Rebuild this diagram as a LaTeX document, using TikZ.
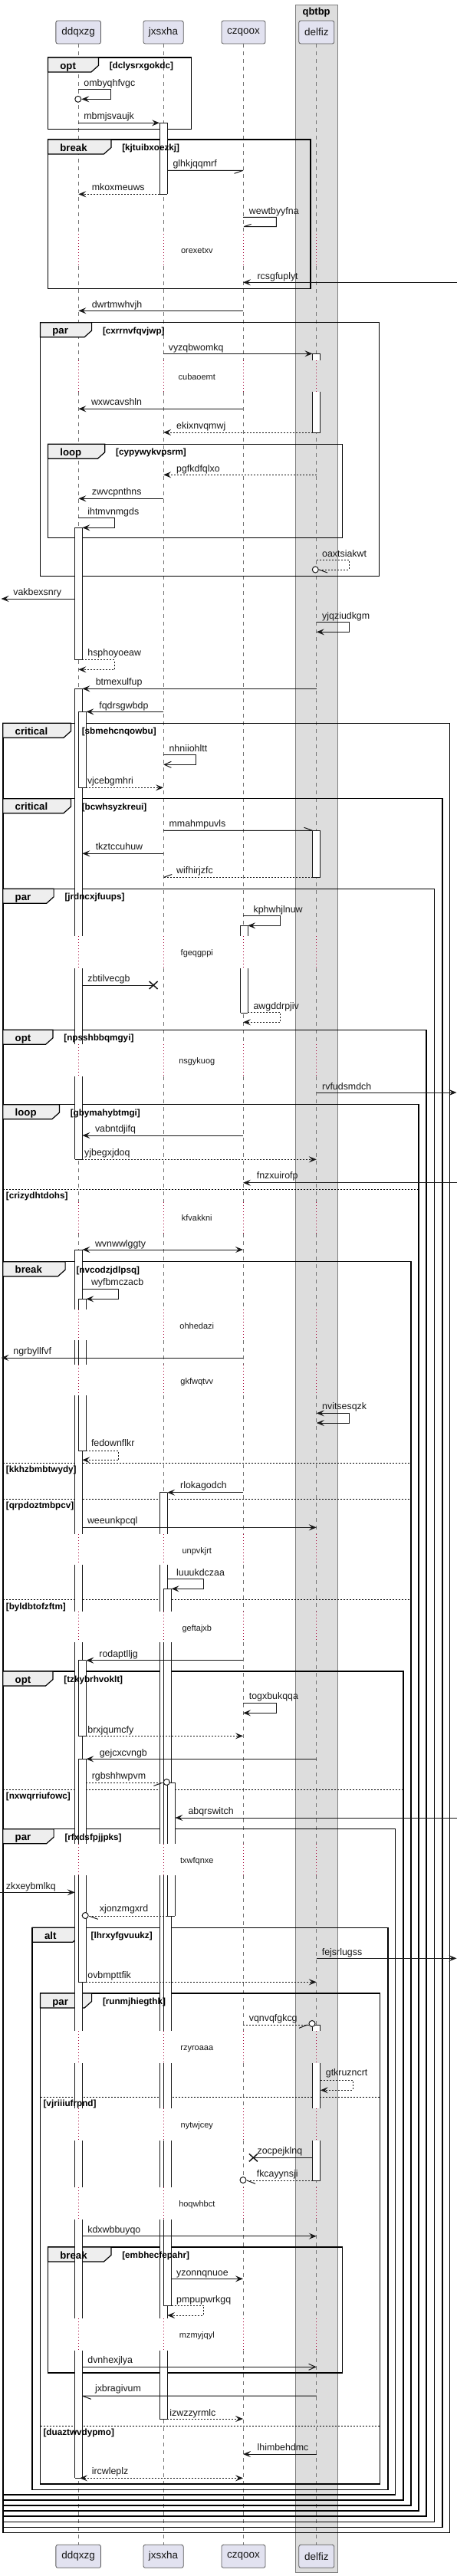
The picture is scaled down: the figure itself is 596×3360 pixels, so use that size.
\documentclass[tikz,border=0pt]{standalone}
\usepackage{fontspec}
\setmainfont{Liberation Sans}
\usetikzlibrary{arrows.meta}
\definecolor{partfill}{HTML}{E2E2F0}
\definecolor{boxfill}{HTML}{DDDDDD}
\definecolor{tabfill}{HTML}{EEEEEE}
\definecolor{delayred}{HTML}{A80036}
\definecolor{ink}{HTML}{181818}
\tikzset{
  msg/.style={draw=ink, line width=1pt},
  ret/.style={msg, dash pattern=on 2pt off 2pt},
  fa/.style={-{Stealth[length=10pt,width=8pt,inset=4pt]}},
  fb/.style={{Stealth[length=10pt,width=8pt,inset=4pt]}-{Stealth[length=10pt,width=8pt,inset=4pt]}},
  oa/.style={-{Straight Barb[length=9pt,width=8pt]}},
  lbl/.style={anchor=base west, inner sep=0pt, font=\fontsize{12.4}{14}\selectfont, text=ink},
  dly/.style={anchor=base, inner sep=0pt, font=\fontsize{11}{13}\selectfont, text=ink},
  kw/.style={anchor=base west, inner sep=0pt, font=\bfseries\fontsize{13.2}{15}\selectfont},
  cond/.style={anchor=base west, inner sep=0pt, font=\bfseries\fontsize{11.7}{14}\selectfont},
  part/.style={draw=black!65, line width=0.8pt, fill=partfill, rounded corners=2.5pt, minimum height=30pt, inner sep=0pt, font=\fontsize{13.5}{16}\selectfont, text=ink},
  life/.style={draw=black!55, line width=0.8pt, dash pattern=on 5pt off 5pt},
  dlife/.style={draw=delayred, line width=1pt, dash pattern=on 1pt off 3pt},
  frm/.style={draw=black, line width=1.5pt},
  sepl/.style={draw=black, line width=0.9pt, dash pattern=on 2pt off 2pt},
  actl/.style={draw=ink, line width=1pt},
}
\newcommand\actbox[5]{%
  \foreach \sa/\sb in {#5}{%
    \fill[white] (#1,\sa) rectangle (#2,\sb);
    \draw[actl] (#1,\sa) -- (#1,\sb) (#2,\sa) -- (#2,\sb);
  }
  \draw[actl] (#1,#3) -- (#2,#3) (#1,#4) -- (#2,#4);
}
\def\framelist{62.5/75/249.5/168.7/128.4/opt/[dclysrxgokdc],
62.5/182/405.1/376.7/144.9/break/[kjtuibxoezkj],
52.5/420.7/494.5/751.3/119.6/par/[cxrrnvfqvjwp],
62.5/579.3/446.5/701.7/136.8/loop/[cypywykvpsrm],
3.8/943.3/586.4/3303.5/92.4/critical/[sbmehcnqowbu],
3.8/1041.7/576.8/3296.4/92.4/critical/[bcwhsyzkreui],
3.8/1159.3/566.5/3289.3/70.1/par/[jrdncxjfuups],
3.8/1343.3/555.8/3282.2/69/opt/[npsshbbqmgyi],
3.8/1440.7/546.2/3275.1/77.4/loop/[gbymahybtmgi],
3.8/1645.7/535.9/3268/85.1/break/[nvcodzjdlpsq],
3.8/2180/525.9/3260.9/69/opt/[tzkybrhvoklt],
3.8/2385.7/515.5/3253.8/70.1/par/[rfxdsfpjjpks],
42.2/2514.3/506/3247.3/104.3/alt/[lhrxyfgvuukz],
52.5/2600/495.6/3240/119.6/par/[runmjhiegthk],
62.5/2931/446.5/3095/144.9/break/[embhecfepahr]}
\def\elselist{3.8/546.2/1551/[crizydhtdohs],
3.8/535.9/1908.3/[kkhzbmbtwydy],
3.8/535.9/1955.3/[qrpdoztmbpcv],
3.8/535.9/2086.7/[byldbtofzftm],
3.8/525.9/2334.3/[nxwqrriufowc],
52.5/495.6/2735.3/[vjriiiufrpnd],
52.5/495.6/3164.3/[duaztwvdypmo]}
\begin{document}
\begin{tikzpicture}[x=1pt,y=-1pt]
\useasboundingbox (0,0) rectangle (596,3360);
\fill[white] (0,0) rectangle (596,3360);
% box qbtbp
\filldraw[fill=boxfill, draw=black!50, line width=1pt] (385.6,6) rectangle (440,3355.3);
\node[anchor=base, inner sep=0pt, font=\bfseries\fontsize{13}{15}\selectfont] (bx) at (412.6,19.7) {qbtbp};
% lifelines
\foreach \lx in {102.3,213.1,317,412.8}{
  \foreach \sa/\sb in {57.3/305, 347/470, 511/1221, 1263/1362, 1404/1568, 1609/1708, 1748/1780, 1820/2001, 2041/2102, 2142/2405, 2446/2649, 2691/2750, 2792/2853, 2895/3024, 3066/3319.3}{\draw[life] (\lx,\sa) -- (\lx,\sb);}
  \foreach \sa/\sb in {305/347, 470/511, 1221/1263, 1362/1404, 1568/1609, 1708/1748, 1780/1820, 2001/2041, 2102/2142, 2405/2446, 2649/2691, 2750/2792, 2853/2895, 3024/3066}{\draw[dlife] (\lx,\sa) -- (\lx,\sb);}
}
% participants
\node[part, minimum width=58.7pt] (p1) at (102.2,42) {ddqxzg};
\node[part, minimum width=52.2pt] (p2) at (213.1,42) {jxsxha};
\node[part, minimum width=57.1pt] (p3) at (317.5,42) {czqoox};
\node[part, minimum width=46pt] (p4) at (412.8,42) {delfiz};
\node[part, minimum width=58.7pt] (q1) at (102.2,3334.3) {ddqxzg};
\node[part, minimum width=52.2pt] (q2) at (213.1,3334.3) {jxsxha};
\node[part, minimum width=57.1pt] (q3) at (317.5,3334.3) {czqoox};
\node[part, minimum width=46pt] (q4) at (412.8,3334.3) {delfiz};
% frames
\foreach \fx/\fy/\fxx/\fyy/\ft/\fk/\fc in \framelist{
  \draw[frm] (\fx,\fy) rectangle (\fxx,\fyy);
  \filldraw[fill=tabfill, draw=black, line width=1.2pt] (\fx,\fy) -- (\ft,\fy) -- (\ft,\fy+10.5) -- (\ft-9.5,\fy+19) -- (\fx,\fy+19) -- cycle;
}
\foreach \ex/\exx/\ey/\el in \elselist{\draw[sepl] (\ex,\ey) -- (\exx,\ey);}
% activations
\actbox{208.1}{218.1}{160.3}{253.3}{160.3/253.3}
\actbox{407.5}{417.8}{461.3}{564}{461.3/470, 511/564}
\actbox{97.7}{107.3}{688.3}{860.7}{688.3/860.7}
\actbox{97.7}{107.3}{898.3}{1512.3}{898.3/1221, 1263/1362, 1404/1512.3}
\actbox{102.3}{112.3}{928.3}{1027.7}{928.3/1027.7}
\actbox{407.5}{417.8}{1083.3}{1144.3}{1083.3/1144.3}
\actbox{313.5}{323.1}{1207.3}{1321}{1207.3/1221, 1263/1321}
\actbox{97.7}{107.3}{1630}{3232.3}{1630/1708, 1748/1780, 1820/2001, 2041/2102, 2142/2405, 2446/2649, 2691/2750, 2792/2853, 2895/3024, 3066/3232.3}
\actbox{102.3}{112.3}{1694.3}{1892}{1694.3/1708, 1748/1780, 1820/1892}
\actbox{208.1}{218.1}{1946.7}{3155}{1946.7/2001, 2041/2102, 2142/2405, 2446/2649, 2691/2750, 2792/2853, 2895/3024, 3066/3155}
\actbox{213.1}{223.5}{2072.3}{3007.3}{2072.3/2102, 2142/2405, 2446/2649, 2691/2750, 2792/2853, 2895/3007.3}
\actbox{102.3}{112.3}{2165.7}{2264.3}{2165.7/2264.3}
\actbox{102.3}{112.3}{2294.3}{2585.3}{2294.3/2405, 2446/2585.3}
\actbox{218.1}{228.4}{2325.3}{2499.3}{2325.3/2405, 2446/2499.3}
\actbox{407.5}{417.8}{2641}{2844}{2641/2649, 2691/2750, 2792/2844}
% frame texts
\foreach \fx/\fy/\fxx/\fyy/\ft/\fk/\fc [count=\i] in \framelist{
  \node[kw] (fk\i) at (\fx+15.7,\fy+15) {\fk};
  \node[cond] (fc\i) at (\ft+14.2,\fy+14.5) {\fc};
}
\foreach \ex/\exx/\ey/\el [count=\i] in \elselist{\node[cond] (el\i) at (\ex+3.9,\ey+12.6) {\el};}
% delays
\foreach \dc/\dt [count=\i] in {326/orexetxv, 491/cubaoemt, 1242.3/fgeqgppi, 1383.3/nsgykuog, 1588.3/kfvakkni, 1729.3/ohhedazi, 1801/gkfwqtvv, 2022.3/unpvkjrt, 2123.3/geftajxb, 2426/txwfqnxe, 2670/rzyroaaa, 2771/nytwjcey, 2874/hoqwhbct, 3045.7/mzmyjqyl}{\node[dly] (dl\i) at (256.8,\dc+4) {\dt};}
% messages
\draw[msg,fa] (102.3,116.3) -- (144.5,116.3) -- (144.5,129.3) -- (106.3,129.3);
\draw[msg,fill=white] (101.8,129.3) circle[radius=4pt];
\node[lbl] (m1) at (109.2,112.8) {ombyqhfvgc};
\draw[msg,fa] (102.3,160.3) -- (208.1,160.3);
\node[lbl] (m2) at (109.2,155.2) {mbmjsvaujk};
\draw[msg] (218.1,222.3) -- (317,222.3) (317,222.3) -- (305.5,226.3);
\node[lbl] (m3) at (225.4,217.8) {glhkjqqmrf};
\draw[ret,fa] (208.1,253.3) -- (102.3,253.3);
\node[lbl] (m4) at (119.6,248.2) {mkoxmeuws};
\draw[msg] (317,283.3) -- (360.3,283.3) -- (360.3,295.7) -- (318,295.7) (318,295.7) -- (327.6,292.4);
\node[lbl] (m5) at (324.7,279.5) {wewtbyyfna};
\draw[msg,fa] (596,368.3) -- (317,368.3);
\node[lbl] (m6) at (335.4,364.5) {rcsgfuplyt};
\draw[msg,fa] (317,405.3) -- (102.3,405.3);
\node[lbl] (m7) at (119.6,401.2) {dwrtmwhvjh};
\draw[msg,fa] (213.1,461.3) -- (407.5,461.3);
\node[lbl] (m8) at (219.6,457.2) {vyzqbwomkq};
\draw[msg,fa] (317,533.3) -- (102.3,533.3);
\node[lbl] (m9) at (118.8,528.8) {wxwcavshln};
\draw[ret,fa] (407.5,564) -- (213.1,564);
\node[lbl] (m10) at (230,559.5) {ekixnvqmwj};
\draw[ret,fa] (412.8,619.3) -- (213.1,619.3);
\node[lbl] (m11) at (230,615.2) {pgfkdfqlxo};
\draw[msg,fa] (213.1,650.3) -- (102.3,650.3);
\node[lbl] (m12) at (119.6,645.2) {zwvcpnthns};
\draw[msg,fa] (102.3,675.7) -- (149.5,675.7) -- (149.5,688.3) -- (107.3,688.3);
\node[lbl] (m13) at (114.2,671.2) {ihtmvnmgds};
\draw[ret] (412.8,730.7) -- (455.3,730.7) -- (455.3,743) -- (415.5,743);
\draw[msg] (416,743) -- (427,747);
\draw[msg,fill=white] (411.3,743) circle[radius=4pt];
\node[lbl] (m14) at (420,726.2) {oaxtsiakwt};
\draw[msg,fa] (97.7,781) -- (1.5,781);
\node[lbl] (m15) at (17.2,776.2) {vakbexsnry};
\draw[msg,fa] (412.8,811.7) -- (455.3,811.7) -- (455.3,824.3) -- (412.8,824.3);
\node[lbl] (m16) at (420,807.2) {yjqziudkgm};
\draw[ret,fa] (107.3,860.7) -- (149.5,860.7) -- (149.5,873.3) -- (102.3,873.3);
\node[lbl] (m17) at (114.2,855.2) {hsphoyoeaw};
\draw[msg,fa] (412.8,898.3) -- (107.3,898.3);
\node[lbl] (m18) at (124.6,893.8) {btmexulfup};
\draw[msg,fa] (213.1,928.3) -- (112.3,928.3);
\node[lbl] (m19) at (129.2,924.5) {fqdrsgwbdp};
\draw[msg,oa] (213.1,984.3) -- (255.7,984.3) -- (255.7,997.3) -- (213.1,997.3);
\node[lbl] (m20) at (220.4,980.5) {nhniiohltt};
\draw[ret,fa] (112.3,1027.3) -- (213.1,1027.3);
\node[lbl] (m21) at (113.8,1022.8) {vjcebgmhri};
\draw[msg] (213.1,1083.3) -- (407.5,1083.3) (407.5,1083.3) -- (396.5,1079.3);
\node[lbl] (m22) at (220.4,1078.8) {mmahmpuvls};
\draw[msg,fa] (213.1,1113.3) -- (107.3,1113.3);
\node[lbl] (m23) at (124.6,1108.8) {tkztccuhuw};
\draw[ret] (407.5,1144.3) -- (213.1,1144.3);
\draw[msg] (213.6,1144.3) -- (224.2,1140.5);
\node[lbl] (m24) at (230,1139.5) {wifhirjzfc};
\draw[msg,fa] (317,1194.3) -- (365.3,1194.3) -- (365.3,1207.3) -- (323.1,1207.3);
\node[lbl] (m25) at (330.4,1190.2) {kphwhjlnuw};
\draw[msg] (107.3,1285) -- (200.1,1285);
\draw[line width=1.5pt, draw=ink] (194.6,1280) -- (205.6,1290) (194.6,1290) -- (205.6,1280);
\node[lbl] (m26) at (114.2,1280.2) {zbtilvecgb};
\draw[ret,fa] (323.1,1320.3) -- (365.3,1320.3) -- (365.3,1333.3) -- (317,1333.3);
\node[lbl] (m27) at (330.4,1316.8) {awgddrpjiv};
\draw[msg,fa] (412.8,1425) -- (595.5,1425);
\node[lbl] (m28) at (420,1421.2) {rvfudsmdch};
\draw[msg,fa] (317,1481) -- (107.3,1481);
\node[lbl] (m29) at (123.8,1476.8) {vabntdjifq};
\draw[ret,fa] (107.3,1512.3) -- (412.8,1512.3);
\node[lbl] (m30) at (110,1507.8) {yjbegxjdoq};
\draw[msg,fa] (596,1542.7) -- (317,1542.7);
\node[lbl] (m31) at (334.6,1537.8) {fnzxuirofp};
\draw[msg,fb] (107.3,1630) -- (317,1630);
\node[lbl] (m32) at (123.8,1626.2) {wvnwwlggty};
\draw[msg,fa] (107.3,1681.7) -- (154.8,1681.7) -- (154.8,1694.3) -- (112.3,1694.3);
\node[lbl] (m33) at (118.8,1676.2) {wyfbmczacb};
\draw[msg,fa] (317,1771) -- (1.5,1771);
\node[lbl] (m34) at (17.2,1766.2) {ngrbyllfvf};
\draw[msg,fb] (412.8,1843.3) -- (455.3,1843.3) -- (455.3,1856) -- (412.8,1856);
\node[lbl] (m35) at (420,1838.8) {nvitsesqzk};
\draw[ret,fa] (112.3,1892) -- (154.8,1892) -- (154.8,1904.3) -- (107.3,1904.3);
\node[lbl] (m36) at (118.8,1886.8) {fedownflkr};
\draw[msg,fa] (317,1946.7) -- (218.1,1946.7);
\node[lbl] (m37) at (235,1941.2) {rlokagodch};
\draw[msg,fa] (107.3,1992.3) -- (412.8,1992.3);
\node[lbl] (m38) at (113.8,1987.2) {weeunkpcql};
\draw[msg,fa] (218.1,2059.3) -- (265.6,2059.3) -- (265.6,2072.3) -- (223.5,2072.3);
\node[lbl] (m39) at (230,2055.2) {luuukdczaa};
\draw[msg,fa] (317,2165.7) -- (112.3,2165.7);
\node[lbl] (m40) at (129.2,2161.8) {rodaptlljg};
\draw[msg,fa] (317,2221.7) -- (360.3,2221.7) -- (360.3,2234.3) -- (317,2234.3);
\node[lbl] (m41) at (324.7,2216.2) {togxbukqqa};
\draw[ret,fa] (112.3,2264.3) -- (317,2264.3);
\node[lbl] (m42) at (114.2,2260.2) {brxjqumcfy};
\draw[msg,fa] (412.8,2294.3) -- (112.3,2294.3);
\node[lbl] (m43) at (129.6,2290.2) {gejcxcvngb};
\draw[ret] (112.3,2325.3) -- (212.8,2325.3);
\draw[msg] (211.5,2325.3) -- (200.5,2329.3);
\draw[msg,fill=white] (217.3,2324.5) circle[radius=4pt];
\node[lbl] (m44) at (119.6,2320.5) {rgbshhwpvm};
\draw[msg,fa] (596,2371) -- (228.4,2371);
\node[lbl] (m45) at (245.3,2366.2) {abqrswitch};
\draw[msg,fa] (0,2468.3) -- (97.7,2468.3);
\node[lbl] (m46) at (7.7,2464.5) {zkxeybmlkq};
\draw[ret] (218.1,2499.3) -- (115.8,2499.3);
\draw[msg] (116.5,2499.3) -- (127.8,2503.3);
\draw[msg,fill=white] (111.2,2498.5) circle[radius=4pt];
\node[lbl] (m47) at (129.6,2493.8) {xjonzmgxrd};
\draw[msg,fa] (412.8,2554.3) -- (595.5,2554.3);
\node[lbl] (m48) at (419.7,2550.2) {fejsrlugss};
\draw[ret,fa] (112.3,2585.3) -- (412.8,2585.3);
\node[lbl] (m49) at (114.2,2580.2) {ovbmpttfik};
\draw[ret] (317,2641) -- (402.5,2641);
\draw[msg] (401,2641) -- (390,2645.3);
\draw[msg,fill=white] (407,2639.5) circle[radius=4pt];
\node[lbl] (m50) at (324.7,2636.2) {vqnvqfgkcg};
\draw[ret,fa] (417.8,2713.3) -- (460,2713.3) -- (460,2726.3) -- (417.8,2726.3);
\node[lbl] (m51) at (424.7,2707.8) {gtkruzncrt};
\draw[msg] (407.5,2814.3) -- (330.4,2814.3);
\draw[line width=1.5pt, draw=ink] (324.9,2809.3) -- (335.9,2819.3) (324.9,2819.3) -- (335.9,2809.3);
\node[lbl] (m52) at (335.4,2809.5) {zocpejklnq};
\draw[ret] (407.5,2844) -- (321.5,2844);
\draw[msg] (322,2844) -- (333,2848.3);
\draw[msg,fill=white] (317,2843.5) circle[radius=4pt];
\node[lbl] (m53) at (334.6,2839.5) {fkcayynsji};
\draw[msg,fa] (107.3,2916.7) -- (412.8,2916.7);
\node[lbl] (m54) at (114.2,2912.2) {kdxwbbuyqo};
\draw[msg,fa] (223.5,2972.3) -- (317,2972.3);
\node[lbl] (m55) at (230,2968.5) {yzonnqnuoe};
\draw[ret,fa] (223.5,3007.3) -- (265.6,3007.3) -- (265.6,3020) -- (218.1,3020);
\node[lbl] (m56) at (230,3003.5) {pmpupwrkgq};
\draw[msg,oa] (107.3,3087.3) -- (412.8,3087.3);
\node[lbl] (m57) at (114.2,3082) {dvnhexjlya};
\draw[msg] (412.8,3125) -- (107.3,3125) (107.3,3125) -- (118.8,3129.3);
\node[lbl] (m58) at (123.8,3119.5) {jxbragivum};
\draw[ret,fa] (218.1,3155) -- (317,3155);
\node[lbl] (m59) at (221.2,3151.2) {izwzzyrmlc};
\draw[msg,fa] (412.8,3201) -- (317,3201);
\node[lbl] (m60) at (335.4,3196.8) {lhimbehdmc};
\draw[ret,fb] (104,3232.3) -- (317,3232.3);
\node[lbl] (m61) at (119.6,3227.2) {ircwleplz};
\end{tikzpicture}
\end{document}
